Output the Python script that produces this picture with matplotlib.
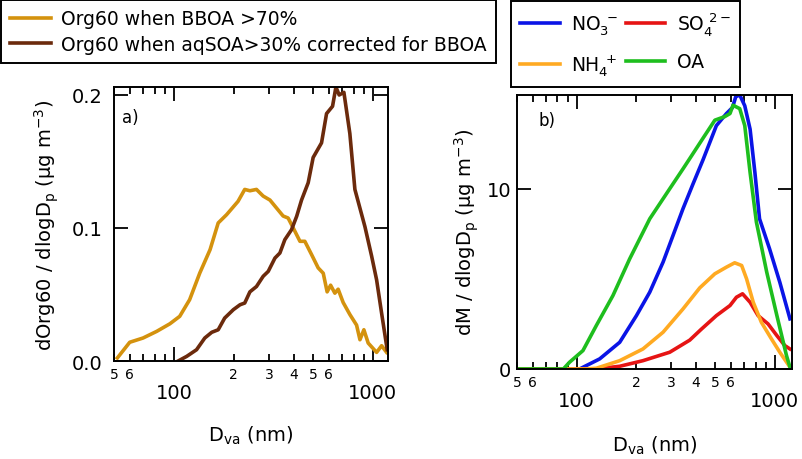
import numpy as np
import matplotlib
matplotlib.use('Agg')
import matplotlib.pyplot as plt
from matplotlib.ticker import FixedLocator, FixedFormatter

plt.rcParams['font.family'] = ['DejaVu Sans']
plt.rcParams['mathtext.fontset'] = 'dejavusans'
plt.rcParams['mathtext.default'] = 'regular'

# panel a) Org60 size distributions
bboa_dva = [52, 60, 70, 82, 95.5, 107, 120, 135, 152, 167, 184, 210, 227, 241, 260,
            281, 304, 328, 354, 375, 398, 430, 455, 492, 531, 563, 589, 613, 644, 669,
            709, 766, 828, 861, 901, 947, 1044, 1106, 1172]
bboa_org60 = [0.0023, 0.0141, 0.0173, 0.0223, 0.028, 0.0336, 0.0461, 0.0662, 0.0837, 0.1038,
              0.110, 0.120, 0.129, 0.128, 0.129, 0.124, 0.121, 0.115, 0.109, 0.1075,
              0.100, 0.090, 0.090, 0.080, 0.070, 0.066, 0.052, 0.057, 0.051, 0.054,
              0.044, 0.035, 0.027, 0.016, 0.0235, 0.0135, 0.0065, 0.0115, 0.0065]

aqsoa_dva = [105, 116, 130, 143, 155, 167, 180, 199, 215, 227, 241, 260, 281, 298, 322,
             341, 361, 390, 414, 438, 473, 501, 552, 585, 627, 652, 677, 715, 766, 812,
             912, 985, 1044, 1106, 1180]
aqsoa_org60 = [0, 0.0035, 0.0085, 0.0173, 0.0216, 0.0235, 0.0323, 0.0386, 0.0423, 0.0436,
               0.052, 0.056, 0.0637, 0.0674, 0.0774, 0.0812, 0.0912, 0.0987, 0.1088, 0.121,
               0.134, 0.153, 0.164, 0.186, 0.1915, 0.206, 0.200, 0.202, 0.171, 0.129,
               0.101, 0.079, 0.061, 0.036, 0.0085]

# panel b) species size distributions
no3_dva = [50, 103.5, 130.7, 164.9, 200.3, 233.8, 273, 306.5, 344, 386, 434, 507, 570,
           611, 635, 665, 705, 750, 793, 837, 940, 1060, 1192]
no3 = [0, 0, 0.56, 1.48, 2.96, 4.26, 5.93, 7.41, 8.89, 10.25, 11.6, 13.5, 14.17,
       14.5, 15.1, 15.2, 14.6, 13.3, 10.9, 8.33, 6.67, 4.8, 2.78]

so4_dva = [50, 125, 164.9, 216, 295, 372, 425, 507, 594, 640, 687, 750, 823, 924,
           1024, 1122, 1192]
so4 = [0, 0, 0.15, 0.46, 0.93, 1.6, 2.2, 2.96, 3.52, 3.98, 4.17, 3.7, 2.96, 2.5,
       1.85, 1.3, 1.11]

nh4_dva = [50, 110, 125.7, 164.9, 216, 273, 344, 418, 498, 570, 627, 680, 720, 778,
           855, 961, 1059, 1192]
nh4 = [0, 0, 0.04, 0.46, 1.11, 2.04, 3.33, 4.5, 5.28, 5.65, 5.89, 5.74, 5.0, 3.7,
       2.59, 1.67, 0.93, 0.1]

oa_dva = [50, 85.7, 92, 107.6, 125.7, 152.4, 185.2, 233.8, 295, 344, 372, 434, 498,
          559, 594, 615, 665, 705, 750, 807, 910, 1024, 1145, 1192]
oa = [0, 0, 0.37, 1.02, 2.41, 4.07, 6.11, 8.33, 10.0, 11.1, 11.67, 12.8, 13.8,
      14.0, 14.17, 14.63, 14.44, 13.5, 10.9, 8.15, 5.37, 2.96, 0.74, 0.1]

minor_ticks = [50, 60, 70, 80, 90, 200, 300, 400, 500, 600, 700, 800, 900]
minor_labels = ['5', '6', '', '', '', '2', '3', '4', '5', '6', '', '', '']

fig = plt.figure(figsize=(8.02, 4.60), dpi=100)
ax1 = fig.add_axes([0.1421, 0.2130, 0.3416, 0.5957])
ax2 = fig.add_axes([0.6446, 0.1957, 0.3429, 0.5957])


def style(ax, xmax, ymax, yticks, ylabels, ypad):
    ax.set_xscale('log')
    ax.set_xlim(50, xmax)
    ax.set_ylim(0, ymax)
    ax.xaxis.set_major_locator(FixedLocator([100, 1000]))
    ax.xaxis.set_major_formatter(FixedFormatter(['100', '1000']))
    ax.xaxis.set_minor_locator(FixedLocator(minor_ticks))
    ax.xaxis.set_minor_formatter(FixedFormatter(minor_labels))
    ax.yaxis.set_major_locator(FixedLocator(yticks))
    ax.yaxis.set_major_formatter(FixedFormatter(ylabels))
    ax.tick_params(which='both', direction='in', bottom=True, left=True, top=True, right=True,
                   labeltop=False, labelright=False, width=1.3, color='black')
    ax.tick_params(axis='x', which='major', length=10, labelsize=14, pad=16)
    ax.tick_params(axis='x', which='minor', length=5, labelsize=10, pad=4)
    ax.tick_params(axis='y', which='major', length=10, labelsize=14, pad=ypad)
    for s in ax.spines.values():
        s.set_linewidth(1.4)


style(ax1, 1190, 0.206, [0, 0.1, 0.2], ['0.0', '0.1', '0.2'], 8)
style(ax2, 1220, 15.2, [0, 10], ['0', '10'], 4)

l1, = ax1.plot(bboa_dva, bboa_org60, color='#D4920E', lw=2.6, solid_joinstyle='round')
l2, = ax1.plot(aqsoa_dva, aqsoa_org60, color='#6B2A0C', lw=2.6, solid_joinstyle='round')

b1, = ax2.plot(no3_dva, no3, color='#0A14E6', lw=2.6, solid_joinstyle='round')
b2, = ax2.plot(so4_dva, so4, color='#E61414', lw=2.6, solid_joinstyle='round')
b3, = ax2.plot(nh4_dva, nh4, color='#FFAA22', lw=2.6, solid_joinstyle='round')
b4, = ax2.plot(oa_dva, oa, color='#1EBE1E', lw=2.6, solid_joinstyle='round')

ax1.set_xlabel('D$_{va}$ (nm)', fontsize=14)
ax2.set_xlabel('D$_{va}$ (nm)', fontsize=14)
ax1.xaxis.set_label_coords(0.5, -0.23)
ax2.xaxis.set_label_coords(0.5, -0.237)
ax1.set_ylabel('dOrg60 / dlogD$_{p}$ (µg m$^{-3}$)', fontsize=14)
ax2.set_ylabel('dM / dlogD$_{p}$ (µg m$^{-3}$)', fontsize=14)
ax1.yaxis.set_label_coords(-0.193, 0.5)
ax2.yaxis.set_label_coords(-0.131, 0.504)

ax1.text(0.029, 0.925, 'a)', transform=ax1.transAxes, fontsize=12, va='top', ha='left')
ax2.text(0.08, 0.942, 'b)', transform=ax2.transAxes, fontsize=12, va='top', ha='left')

leg_font = {'family': 'DejaVu Sans', 'size': 13.5}
leg1 = fig.legend([l1, l2], ['Org60 when BBOA >70%', 'Org60 when aqSOA>30% corrected for BBOA'],
                  loc='upper left', bbox_to_anchor=(0.001, 0.998), borderaxespad=0,
                  prop=leg_font, fancybox=False, edgecolor='black', framealpha=1,
                  handlelength=2.2, handletextpad=0.5, borderpad=0.5, labelspacing=0.35)
leg1.get_frame().set_linewidth(1.4)

leg2 = fig.legend([b1, b3, b2, b4],
                  ['NO$_3^{\\ -}$', 'NH$_4^{\\ +}$', 'SO$_4^{\\ 2-}$', 'OA'],
                  loc='upper left', bbox_to_anchor=(511 / 802, 1 - 2 / 460), borderaxespad=0,
                  ncol=2, prop=leg_font, fancybox=False, edgecolor='black', framealpha=1,
                  handlelength=2.1, handletextpad=0.6, borderpad=0.5, labelspacing=0.8,
                  columnspacing=0.4)
leg2.get_frame().set_linewidth(1.4)

fig.savefig('out.png', dpi=100)
